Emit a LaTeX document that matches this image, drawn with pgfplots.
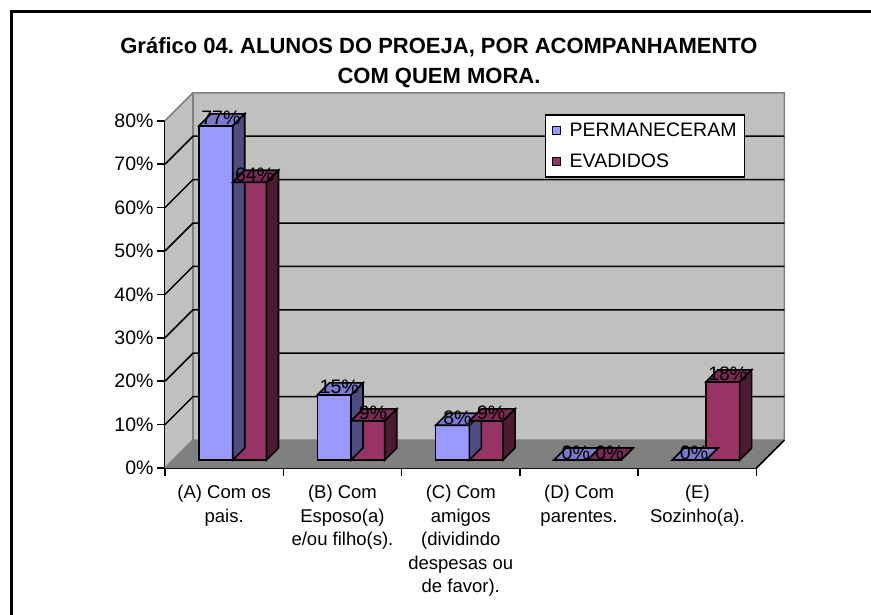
\documentclass[border=0pt]{standalone}
\usepackage{fontspec}
\setmainfont{Liberation Sans}
\usepackage{pgfplots}
\pgfplotsset{compat=1.18}
\usepackage{pgfplotstable}
\frenchspacing

\definecolor{bfront}{HTML}{9999FF}
\definecolor{btop}{HTML}{7A7ACC}
\definecolor{bside}{HTML}{4D4D80}
\definecolor{mfront}{HTML}{993366}
\definecolor{mtop}{HTML}{7A2952}
\definecolor{mside}{HTML}{4D1A33}
\definecolor{wallc}{HTML}{C0C0C0}
\definecolor{floorc}{HTML}{808080}
\definecolor{edgec}{HTML}{808080}

\newdimen\barh
\newdimen\barhb
\newcommand\defcube[3]{%
 \pgfdeclareplotmark{#1}{%
  \pgfmathsetlength\barh{\hv*4.34}%
  \barhb=12pt\relax
  \advance\barhb by -\barh
  \pgfsetlinewidth{1.6pt}%
  \pgfsetstrokecolor{black}%
  \pgfsetfillcolor{#2}%
  \pgfpathmoveto{\pgfqpoint{-16.85pt}{0pt}}%
  \pgfpathlineto{\pgfqpoint{16.85pt}{0pt}}%
  \pgfpathlineto{\pgfqpoint{28.85pt}{12pt}}%
  \pgfpathlineto{\pgfqpoint{-4.85pt}{12pt}}%
  \pgfpathclose
  \pgfusepathqfillstroke
  \pgfsetfillcolor{#3}%
  \pgfpathmoveto{\pgfqpoint{16.85pt}{0pt}}%
  \pgfpathlineto{\pgfqpoint{28.85pt}{12pt}}%
  \pgfpathlineto{\pgfqpoint{28.85pt}{\barhb}}%
  \pgfpathlineto{\pgfqpoint{16.85pt}{-\barh}}%
  \pgfpathclose
  \pgfusepathqfillstroke
 }}
\defcube{cubeblue}{btop}{bside}
\defcube{cubemar}{mtop}{mside}

\pgfplotstableread{
cat perm evad
0 77 64
1 15 9
2 8 9
3 0 0
4 0 18
}\data

\begin{document}
\begin{tikzpicture}
\useasboundingbox (0pt,0pt) rectangle (871pt,-614pt);
\begin{scope}
\clip (0pt,0pt) rectangle (871pt,-614pt);
\draw[line width=3pt] (11pt,-700pt) -- (11pt,-11pt) -- (950pt,-11pt);
\node[font=\fontsize{22}{26}\selectfont\bfseries, anchor=base, inner sep=0pt] at (439pt,-53pt) {Gráfico 04. ALUNOS DO PROEJA, POR ACOMPANHAMENTO};
\node[font=\fontsize{22}{26}\selectfont\bfseries, anchor=base, inner sep=0pt] at (439pt,-83pt) {COM QUEM MORA.};
\begin{axis}[
  at={(173pt,-460pt)}, anchor=origin,
  x=118.3pt, y=4.34pt,
  xmin=-0.0676, xmax=4.9324, ymin=-1.843, ymax=78.157,
  clip=false,
  /pgf/number format/assume math mode=true,
  axis x line*=bottom, axis y line*=left,
  axis line style={black, line width=1.8pt},
  tick style={black, line width=1.5pt},
  major tick length=8pt, tick align=outside,
  xtick={-0.0676,0.9324,1.9324,2.9324,3.9324,4.9324},
  xticklabels={,,,,,},
  extra x ticks={0.4324,1.4324,2.4324,3.4324,4.4324},
  extra x tick labels={{(A) Com os\\pais.},{(B) Com\\Esposo(a)\\e/ou filho(s).},{(C) Com\\amigos\\(dividindo\\despesas ou\\de favor).},{(D) Com\\parentes.},{(E)\\Sozinho(a).}},
  extra x tick style={major tick length=0pt, xticklabel style={align=center, anchor=north, yshift=-14pt, font=\fontsize{18.5}{23.5}\selectfont}},
  ytick={-1.843,8.157,18.157,28.157,38.157,48.157,58.157,68.157,78.157},
  yticklabels={0\%,10\%,20\%,30\%,40\%,50\%,60\%,70\%,80\%},
  tick label style={font=\fontsize{19.5}{23.5}\selectfont},
  legend style={at={(0.6424,1.0195)}, anchor=north west, draw=black, line width=1.5pt, fill=white,
    font=\fontsize{19.5}{23.5}\selectfont, inner xsep=6pt, inner ysep=6pt, row sep=12pt,
    nodes={inner sep=2pt},
    /tikz/every odd column/.append style={column sep=7pt}},
  legend cell align=left,
]
% back wall
\fill[wallc] (axis cs:0.169,4.608) rectangle (axis cs:5.169,84.608);
% floor
\fill[floorc] (axis cs:-0.0676,-1.843) -- (axis cs:4.9324,-1.843) -- (axis cs:5.169,4.608) -- (axis cs:0.169,4.608) -- cycle;
% side wall
\fill[wallc] (axis cs:-0.0676,-1.843) -- (axis cs:0.169,4.608) -- (axis cs:0.169,84.608) -- (axis cs:-0.0676,78.157) -- cycle;
\draw[edgec, line width=1.5pt] (axis cs:-0.0676,-1.843) -- (axis cs:0.169,4.608) -- (axis cs:5.169,4.608);
\draw[edgec, line width=1.5pt] (axis cs:-0.0676,78.157) -- (axis cs:0.169,84.608) -- (axis cs:5.169,84.608) -- (axis cs:5.169,4.608);
\draw[edgec, line width=1.5pt] (axis cs:0.169,4.608) -- (axis cs:0.169,84.608);
\draw[black, line width=1.5pt] (axis cs:4.9324,-1.843) -- (axis cs:5.169,4.608);
\pgfplotsinvokeforeach{10,20,30,40,50,60,70}{
  \draw[black, line width=1.5pt] (axis cs:-0.0676,#1-1.843) -- (axis cs:0.169,#1+4.608) -- (axis cs:5.169,#1+4.608);
}
% PERMANECERAM
\addplot[ybar, bar width=0.285, bar shift=0pt, fill=bfront, draw=black, line width=1.6pt,
  legend image code/.code={\draw[fill=bfront, draw=black, line width=1pt] (0pt,-4pt) rectangle (8pt,4pt);}]
  table[x expr=\thisrow{cat}+0.3625, y=perm] {\data};
\addlegendentry{PERMANECERAM}
\addplot[scatter, only marks, mark=cubeblue, forget plot, point meta=y,
  visualization depends on={\thisrow{perm} \as \hv},
  nodes near coords={\pgfmathprintnumber[fixed,precision=0]{\pgfplotspointmeta}\%},
  every node near coord/.append style={anchor=base, xshift=5pt, yshift=1pt, text=black, inner sep=0pt, font=\fontsize{19.5}{23.5}\selectfont}]
  table[x expr=\thisrow{cat}+0.3625, y=perm] {\data};
% EVADIDOS
\addplot[ybar, bar width=0.285, bar shift=0pt, fill=mfront, draw=black, line width=1.6pt,
  legend image code/.code={\draw[fill=mfront, draw=black, line width=1pt] (0pt,-4pt) rectangle (8pt,4pt);}]
  table[x expr=\thisrow{cat}+0.6475, y=evad] {\data};
\addlegendentry{EVADIDOS}
\addplot[scatter, only marks, mark=cubemar, forget plot, point meta=y,
  visualization depends on={\thisrow{evad} \as \hv},
  nodes near coords={\pgfmathprintnumber[fixed,precision=0]{\pgfplotspointmeta}\%},
  every node near coord/.append style={anchor=base, xshift=5pt, yshift=1pt, text=black, inner sep=0pt, font=\fontsize{19.5}{23.5}\selectfont}]
  table[x expr=\thisrow{cat}+0.6475, y=evad] {\data};
\end{axis}
\end{scope}
\end{tikzpicture}
\end{document}
